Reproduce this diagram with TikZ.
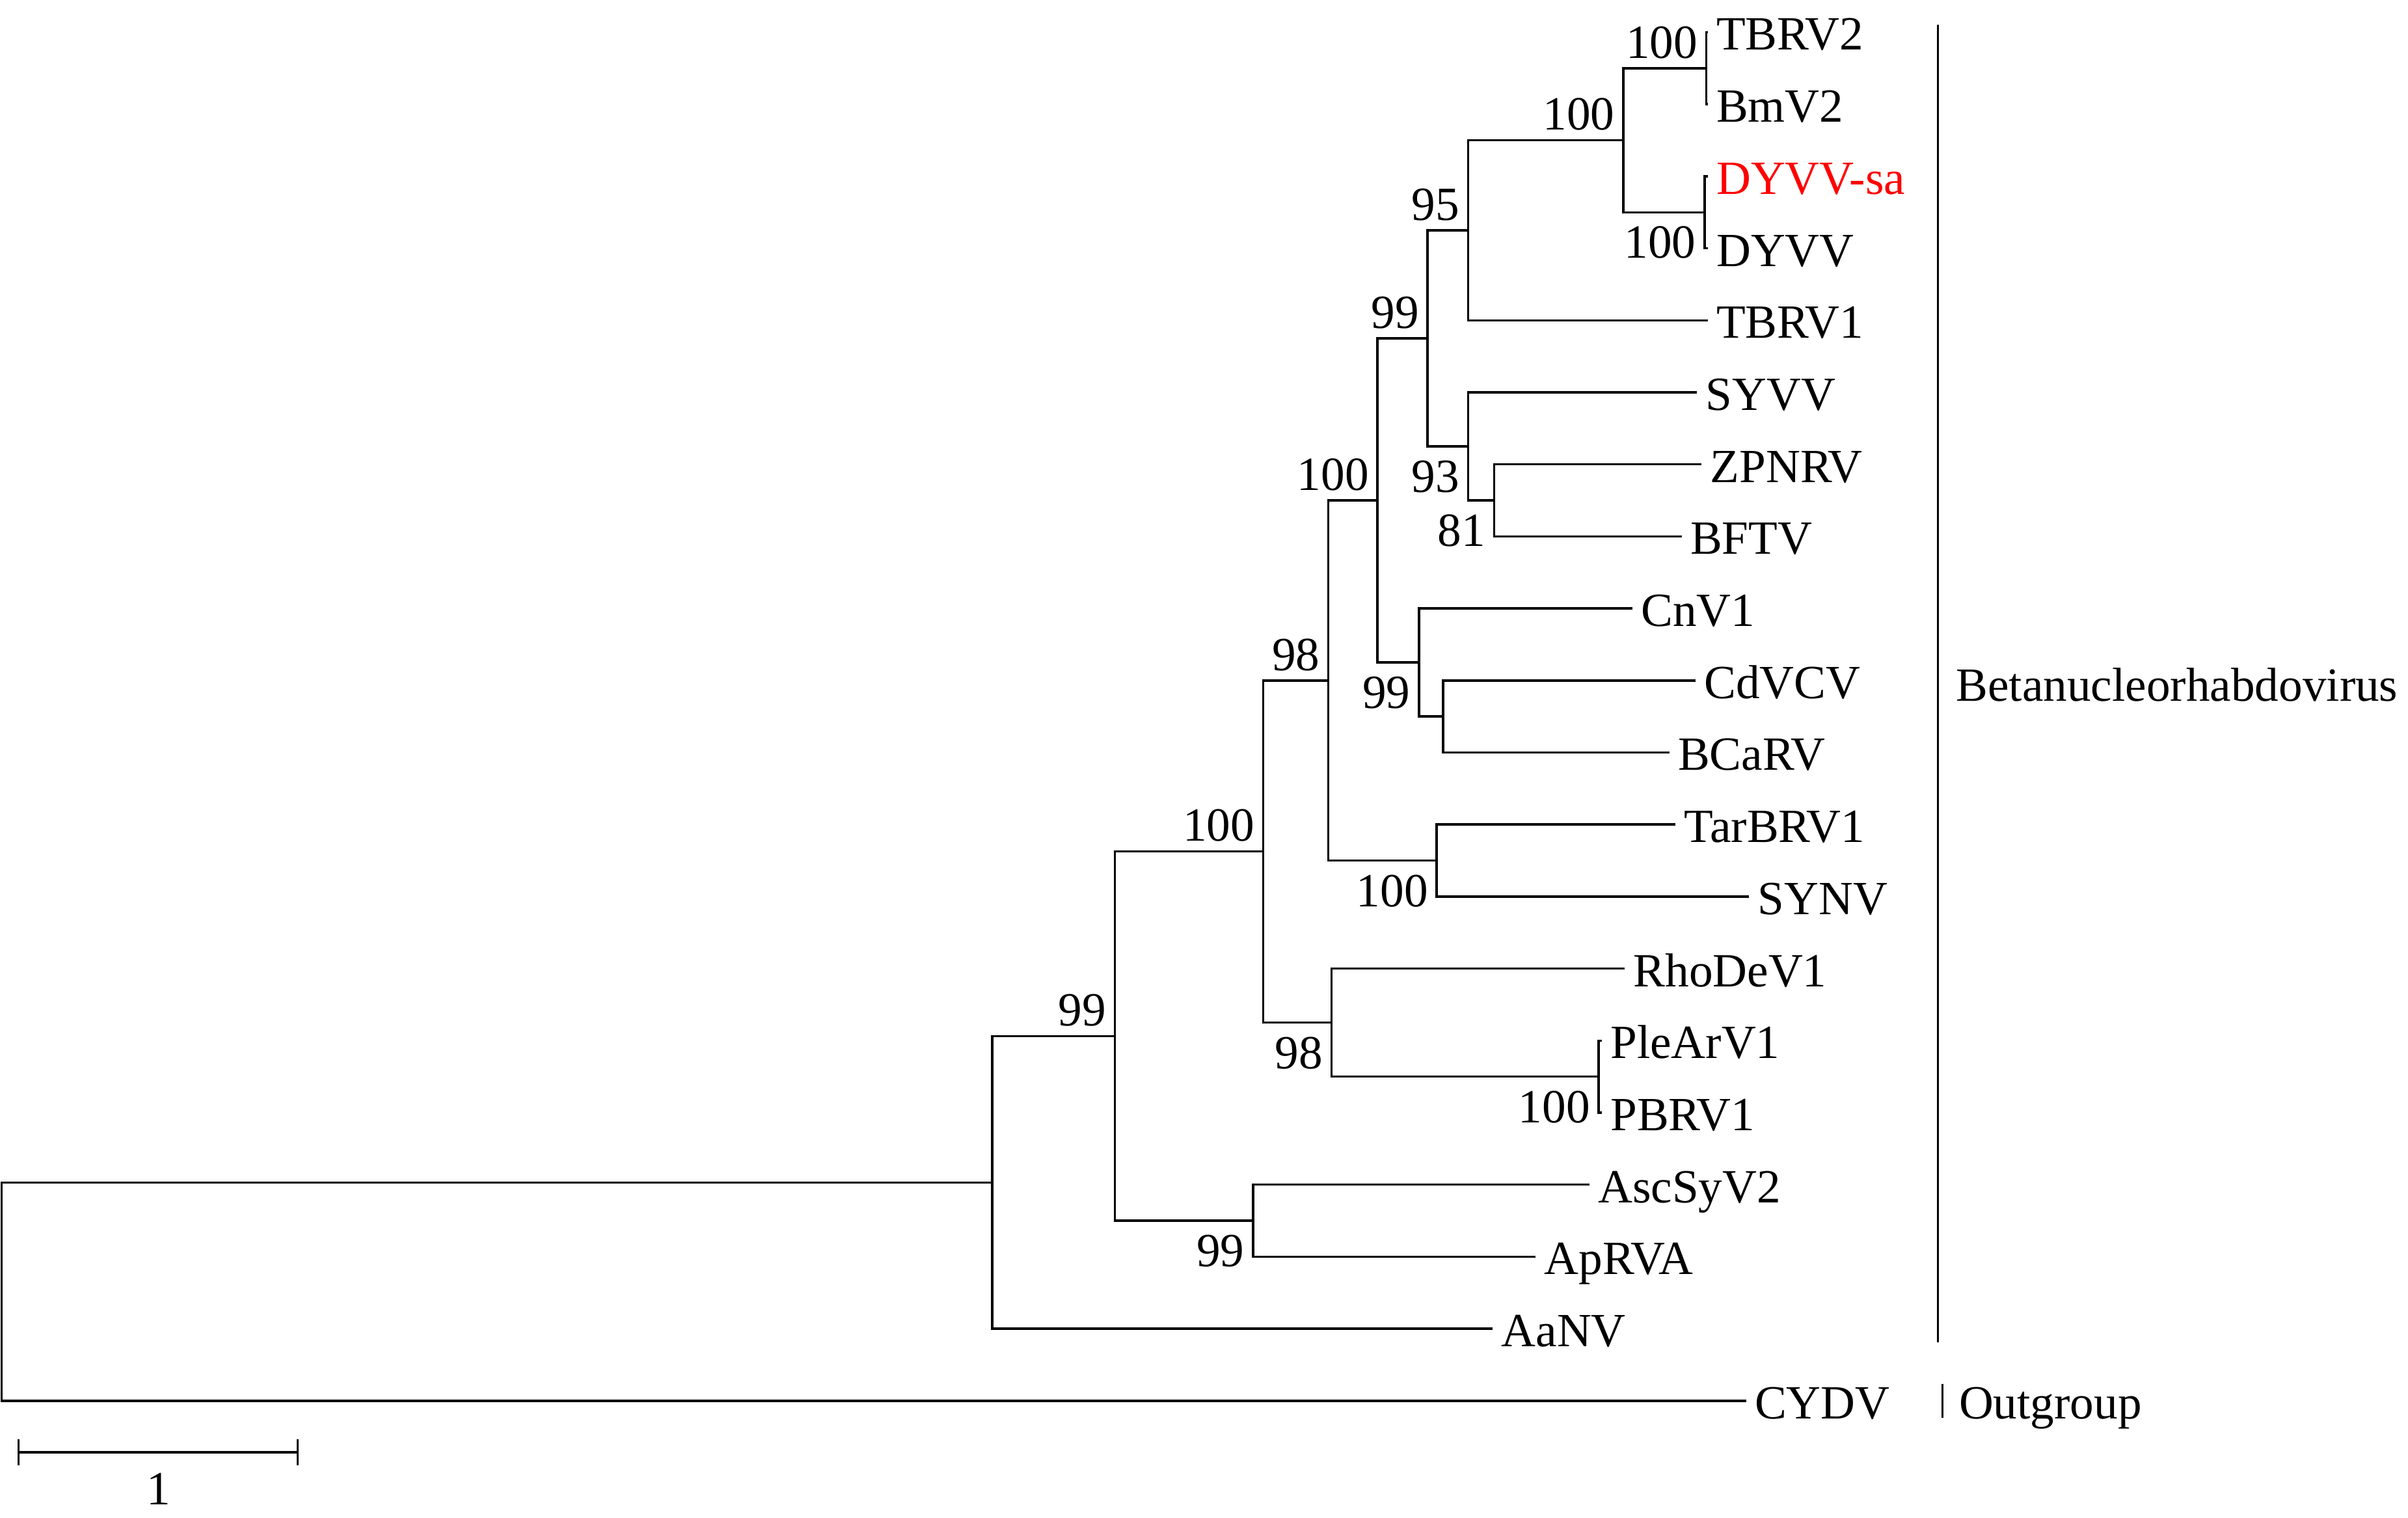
\documentclass[tikz,border=0pt]{standalone}
\usepackage{fontspec}
\setmainfont{Liberation Serif}

\begin{document}
\begin{tikzpicture}[x=0.01cm,y=-0.01cm,
    branch/.style={line width=0.42pt},
    bar/.style={line width=0.35pt},
    txt/.style={inner xsep=0.05cm,text height=0.66em,text depth=0pt,
      font=\fontsize{8.82pt}{10pt}\selectfont},
    taxon/.style={txt,anchor=west,inner ysep=0pt},
    bootup/.style={txt,anchor=south east,inner ysep=0.06cm},
    bootdown/.style={txt,anchor=north east,inner ysep=0.06cm}]
  \colorlet{query}{red}
  \useasboundingbox (0,0) rectangle (1568,988.4);

  % inner nodes of the tree
  \foreach \n/\x/\y in {root/1/841, A/646/769.94, B/726/674.67, C/822.5/554.49,
      D/816/794.85, E/865/443.1, F/867/665.88, G/1041/701.05, H/897/325.85,
      I/935.5/560.35, J/929.6/220.33, K/924/431.38, L/939.7/466.55,
      M/956/149.98, N/956/290.68, O/1057/91.35, P/1111/44.45,
      Q/1110/138.25, R/973/325.85}
    \coordinate (\n) at (\x,\y);

  % taxa
  \foreach \t/\x/\i in {TBRV2/1112/0, BmV2/1112/1, DYVV/1112/3, TBRV1/1112/4,
      SYVV/1105/5, ZPNRV/1108/6, BFTV/1095/7, CnV1/1063/8, CdVCV/1104/9,
      BCaRV/1087/10, TarBRV1/1091/11, SYNV/1139/12, RhoDeV1/1058/13,
      PleArV1/1043/14, PBRV1/1043/15, AscSyV2/1035/16, ApRVA/1000/17,
      AaNV/972/18, CYDV/1137/19}
    \node[taxon] (\t) at (\x,{21+46.9*\i}) {\t};
  \node[taxon,text=query] (DYVV-sa) at (1112,114.8) {DYVV-sa};

  % branches
  \foreach \p/\c in {root/A, root/CYDV.west, A/B, A/AaNV.west, B/C, B/D,
      D/AscSyV2.west, D/ApRVA.west, C/E, C/F, F/RhoDeV1.west, F/G,
      G/PleArV1.west, G/PBRV1.west, E/H, E/I, I/TarBRV1.west, I/SYNV.west,
      H/J, H/K, K/CnV1.west, K/L, L/CdVCV.west, L/BCaRV.west, J/M, J/N,
      N/SYVV.west, N/R, R/ZPNRV.west, R/BFTV.west, M/O, M/TBRV1.west,
      O/P, O/Q, P/TBRV2.west, P/BmV2.west, Q/DYVV-sa.west, Q/DYVV.west}
    \draw[branch] (\p) |- (\c);

  % bootstrap values
  \foreach \n/\v/\s in {P/100/bootup, O/100/bootup, Q/100/bootdown,
      M/95/bootup, J/99/bootup, N/93/bootdown, R/81/bootdown, H/100/bootup,
      K/99/bootdown, E/98/bootup, I/100/bootdown, C/100/bootup,
      F/98/bootdown, G/100/bootdown, B/99/bootup, D/99/bootdown}
    \node[\s] (bs\n) at (\n) {\v};

  % clades
  \coordinate (betatop) at (1262,16);
  \coordinate (betabot) at (1262,874);
  \draw[bar] (betatop) -- (betabot);
  \node[taxon] (beta) at (1268,444.8) {Betanucleorhabdovirus};
  \coordinate (outtop) at (1265,901);
  \coordinate (outbot) at (1265,923);
  \draw[bar] (outtop) -- (outbot);
  \node[taxon] (out) at (1270,912.1) {Outgroup};

  % scale bar
  \coordinate (sbl) at (12,945.6);
  \coordinate (sbr) at (194,945.6);
  \draw[branch] (sbl) -- (sbr);
  \draw[bar] (sbl) ++(0,-8.6) -- ++(0,17.2);
  \draw[bar] (sbr) ++(0,-8.6) -- ++(0,17.2);
  \node[txt,inner ysep=0pt] (sblabel) at (103.5,968) {1};
\end{tikzpicture}
\end{document}
